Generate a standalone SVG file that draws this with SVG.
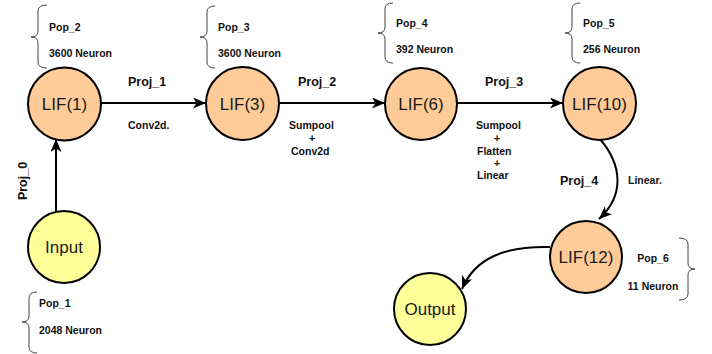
<svg xmlns="http://www.w3.org/2000/svg" width="712" height="354" viewBox="0 0 712 354">
<style>
.lif{fill:#FFCC99;stroke:#000;stroke-width:2}
.io{fill:#FFFF99;stroke:#000;stroke-width:2}
.nt{font-family:"Liberation Sans",Arial,sans-serif;font-size:17px;fill:#1a1a1a;text-anchor:middle}
.pl{font-family:"Liberation Sans",Arial,sans-serif;font-size:12.5px;font-weight:bold;fill:#111}
.sl{font-family:"Liberation Sans",Arial,sans-serif;font-size:10.5px;font-weight:bold;fill:#111}
.br{fill:none;stroke:#444;stroke-width:1}
.cn{fill:none;stroke:#000;stroke-width:2;marker-end:url(#ah)}
</style>
<defs>
<marker id="ah" markerUnits="userSpaceOnUse" markerWidth="14" markerHeight="12" refX="13" refY="5.5" orient="auto">
<path d="M0,0 L13,5.5 L0,11 L3.5,5.5 Z" fill="#000"/>
</marker>
</defs>
<rect width="712" height="354" fill="#fff"/>
<g id="connectors">
<path class="cn" d="M56,212 L56,139"/>
<path class="cn" d="M101,103 L206,103"/>
<path class="cn" d="M279,103 L385,103"/>
<path class="cn" d="M457,103 L563,103"/>
<path class="cn" d="M600,139 C622,165 625,195 599,219"/>
<path class="cn" d="M550,247 C505,246 475,258 462,289"/>
<text class="pl" transform="translate(27,181) rotate(-90)" text-anchor="middle">Proj_0</text>
<text class="pl" x="128" y="86">Proj_1</text>
<text class="sl" x="128" y="129">Conv2d.</text>
<text class="pl" x="298" y="86">Proj_2</text>
<text class="sl" x="289" y="129">Sumpool</text>
<text class="sl" x="312" y="142" text-anchor="middle">+</text>
<text class="sl" x="291" y="155">Conv2d</text>
<text class="pl" x="485" y="86">Proj_3</text>
<text class="sl" x="476" y="129">Sumpool</text>
<text class="sl" x="497" y="142" text-anchor="middle">+</text>
<text class="sl" x="477" y="155">Flatten</text>
<text class="sl" x="497" y="167" text-anchor="middle">+</text>
<text class="sl" x="477" y="179">Linear</text>
<text class="pl" x="560" y="184.5">Proj_4</text>
<text class="sl" x="628" y="184">Linear.</text>
</g>
<g id="pop1">
<path class="br" d="M37,292 Q29,292 29,298 L29,316 Q29,322 22,322 Q29,322 29,328 L29,347 Q29,353 37,353"/>
<text class="sl" x="39" y="307">Pop_1</text>
<text class="sl" x="39" y="334">2048 Neuron</text>
</g>
<g id="pop2">
<path class="br" d="M47,5 Q38,5 38,11 L38,31 Q38,37 31,37 Q38,37 38,43 L38,62 Q38,68 47,68"/>
<text class="sl" x="49" y="31">Pop_2</text>
<text class="sl" x="49" y="57">3600 Neuron</text>
</g>
<g id="pop3">
<path class="br" d="M215,6 Q207,6 207,12 L207,31 Q207,37 200,37 Q207,37 207,43 L207,62 Q207,68 215,68"/>
<text class="sl" x="218" y="31">Pop_3</text>
<text class="sl" x="218" y="57">3600 Neuron</text>
</g>
<g id="pop4">
<path class="br" d="M393,3 Q385,3 385,9 L385,27 Q385,33 378,33 Q385,33 385,39 L385,57 Q385,63 393,63"/>
<text class="sl" x="396" y="27">Pop_4</text>
<text class="sl" x="396" y="53">392 Neuron</text>
</g>
<g id="pop5">
<path class="br" d="M580,3 Q572,3 572,9 L572,27 Q572,33 565,33 Q572,33 572,39 L572,57 Q572,63 580,63"/>
<text class="sl" x="583" y="27">Pop_5</text>
<text class="sl" x="583" y="53">256 Neuron</text>
</g>
<g id="pop6">
<path class="br" d="M679,238 Q688,238 688,244 L688,263 Q688,269 695,269 Q688,269 688,275 L688,294 Q688,300 679,300"/>
<text class="sl" x="653" y="262" text-anchor="middle">Pop_6</text>
<text class="sl" x="653" y="290" text-anchor="middle">11 Neuron</text>
</g>
<g id="input">
<circle class="io" cx="64" cy="247" r="36"/>
<text class="nt" x="64" y="253">Input</text>
</g>
<g id="lif1">
<circle class="lif" cx="64.5" cy="104" r="36.5"/>
<text class="nt" x="64.5" y="110">LIF(1)</text>
</g>
<g id="lif3">
<circle class="lif" cx="242.5" cy="103.5" r="36.5"/>
<text class="nt" x="242.5" y="109.5">LIF(3)</text>
</g>
<g id="lif6">
<circle class="lif" cx="421" cy="104" r="36"/>
<text class="nt" x="421" y="110">LIF(6)</text>
</g>
<g id="lif10">
<circle class="lif" cx="599.5" cy="103.5" r="36.5"/>
<text class="nt" x="599.5" y="109.5">LIF(10)</text>
</g>
<g id="lif12">
<circle class="lif" cx="586" cy="257" r="36"/>
<text class="nt" x="586" y="263">LIF(12)</text>
</g>
<g id="output">
<circle class="io" cx="430" cy="309" r="36"/>
<text class="nt" x="430" y="315">Output</text>
</g>
</svg>
